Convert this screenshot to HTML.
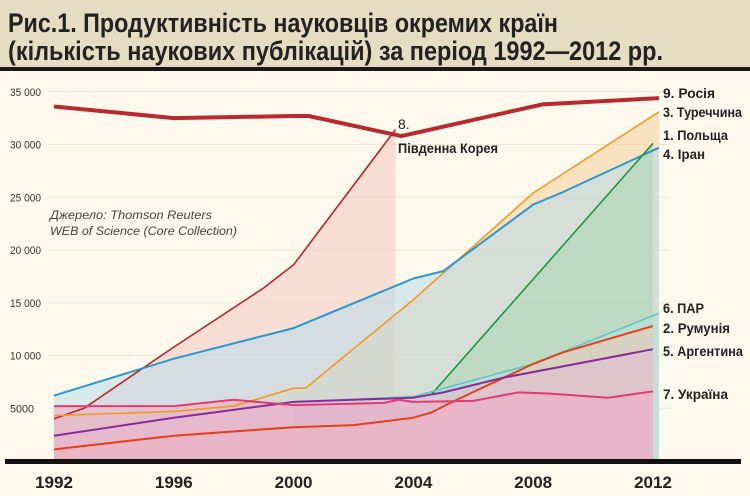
<!DOCTYPE html>
<html><head><meta charset="utf-8">
<style>
body{margin:0;width:750px;height:496px;overflow:hidden;background:#fdf9ec;font-family:"Liberation Sans",sans-serif;}
svg{display:block}
</style></head>
<body>
<svg id="c" width="750" height="496" viewBox="0 0 750 496" xmlns="http://www.w3.org/2000/svg">
<rect x="0" y="0" width="750" height="68" fill="#e6dcc2"/>
<rect x="0" y="67" width="750" height="4" fill="#1a1a1a"/>
<text x="8" y="32" font-size="27" font-weight="bold" fill="#222" textLength="550" lengthAdjust="spacingAndGlyphs">Рис.1. Продуктивність науковців окремих країн</text>
<text x="8" y="60" font-size="27" font-weight="bold" fill="#222" textLength="655" lengthAdjust="spacingAndGlyphs">(кількість наукових публікацій) за період 1992—2012 рр.</text>
<g id="grid"></g>
<g id="fills"></g>
<g id="lines"></g>
<rect x="5" y="459" width="736" height="5" fill="#111"/>
<g id="xt"></g>
<text x="50" y="219" font-size="12" font-style="italic" fill="#444" textLength="162" lengthAdjust="spacingAndGlyphs">Джерело: Thomson Reuters</text>
<text x="50" y="235" font-size="12" font-style="italic" fill="#444" textLength="187" lengthAdjust="spacingAndGlyphs">WEB of Science (Core Collection)</text>
<text x="398" y="129" font-size="14" fill="#222">8.</text>
<text x="398" y="153" font-size="13.5" font-weight="bold" fill="#222" textLength="100" lengthAdjust="spacingAndGlyphs">Південна Корея</text>
<g id="labels" font-size="13.5" font-weight="bold" fill="#222"></g>
</svg>
<script>
const years=[1992,1996,2000,2004,2008,2012];
const yTicks=[5000,10000,15000,20000,25000,30000,35000];
const yTickLabels=["5000","10 000","15 000","20 000","25 000","30 000","35 000"];
const russiaX=[1992,1996,2000,2000.5,2003.6,2008.3,2012.2];
const russiaY=[33.6,32.5,32.7,32.7,30.8,33.8,34.4];
const koreaX=[1992,1993,1996,1999,2000,2003.4];
const koreaY=[4.0,5.0,10.8,16.4,18.6,31.4];
const polandX=[1992,1996,2000,2004,2005,2008,2009,2012.2];
const polandY=[6.2,9.7,12.6,17.3,18.0,24.3,25.5,29.7];
const iranX=[2004.6,2012];
const iranY=[6.3,30.1];
const turkeyX=[1992,1996,1998,2000,2000.4,2004,2008,2012.2];
const turkeyY=[4.3,4.7,5.2,6.9,6.9,15.3,25.4,33.1];
const argentinaX=[1992,1996,2000,2004,2005,2007,2012];
const argentinaY=[2.4,4.1,5.6,6.0,6.5,7.9,10.6];
const safricaX=[2000,2004,2008,2012.2];
const safricaY=[5.6,6.1,9.2,14.0];
const romaniaX=[1992,1996,2000,2002,2004,2004.6,2005.3,2008,2009,2012];
const romaniaY=[1.1,2.4,3.2,3.4,4.1,4.6,5.6,9.2,10.3,12.8];
const ukraineX=[1992,1996,1998,2000,2003,2003.5,2004,2006,2007.5,2008.5,2010.5,2012];
const ukraineY=[5.2,5.2,5.8,5.3,5.5,5.8,5.6,5.7,6.5,6.4,6.0,6.6];

const sx=y=>54+(y-1992)*29.95;
const sy=v=>461-v*10.55;
const NS="http://www.w3.org/2000/svg";
function mk(t,a,p){const e=document.createElementNS(NS,t);for(const k in a)e.setAttribute(k,a[k]);p.appendChild(e);return e;}
const grid=document.getElementById('grid');
yTicks.forEach((v,i)=>{
 const l=mk('line',{x1:48,x2:670,y1:sy(v/1000),y2:sy(v/1000),stroke:'#ece6d2','stroke-width':1},grid);
 
 
 const t=mk('text',{x:10,y:sy(v/1000)+4,'font-size':11,fill:'#333',textLength:(i===0?24:31),lengthAdjust:'spacingAndGlyphs'},grid);
 t.textContent=yTickLabels[i];
 
 
});
const xt=document.getElementById('xt');
years.forEach(y=>{
 const t=mk('text',{x:sx(y),y:488,'font-size':17,'font-weight':'bold','text-anchor':'middle',fill:'#222'},xt);
 t.textContent=y;
 
 
});
const series=[
 {n:'korea',X:koreaX,Y:koreaY,c:'#b8232b',f:'#f6c9c3',w:1.6},
 {n:'turkey',X:turkeyX,Y:turkeyY,c:'#f19a23',f:'#f4cf9c',w:1.6},
 {n:'poland',X:polandX,Y:polandY,c:'#2a98cf',f:'#b9dcea',w:2},
 {n:'iran',X:iranX,Y:iranY,c:'#16983f',f:'#a9d3b0',w:1.6},
 {n:'south-africa',X:safricaX,Y:safricaY,c:'#5ec6c6',f:'#b4e0d8',w:1.6},
 {n:'romania',X:romaniaX,Y:romaniaY,c:'#e5401b',f:'#f2c5b4',w:2},
 {n:'argentina',X:argentinaX,Y:argentinaY,c:'#8a2b9a',f:'#e4bcd6',w:2},
 {n:'ukraine',X:ukraineX,Y:ukraineY,c:'#e33a74',f:'#f0a9c4',w:2},
 {n:'russia',X:russiaX,Y:russiaY,c:'#b82a30',f:null,w:4}
];
const fills=document.getElementById('fills'),lines=document.getElementById('lines');
series.forEach(s=>{
 const pts=s.X.map((x,i)=>sx(x).toFixed(1)+','+sy(s.Y[i]).toFixed(1));
 if(s.f){
  const d='M'+sx(s.X[0])+','+sy(0)+' L'+pts.join(' L')+' L'+sx(s.X[s.X.length-1])+','+sy(0)+'Z';
  const p=mk('path',{d:d,fill:s.f,'fill-opacity':0.55},fills);
  
  
 }
 const l=mk('polyline',{points:pts.join(' '),fill:'none',stroke:s.c,'stroke-width':s.w,'stroke-linejoin':'round'},lines);
 
 
});
const labs=[["9. Росія",98,52],["3. Туреччина",117,79],["1. Польща",140,65],["4. Іран",159,42],["6. ПАР",313,41],["2. Румунія",333,67],["5. Аргентина",356,80],["7. Україна",399,65]];
const lg=document.getElementById('labels');
labs.forEach(a=>{
 const t=mk('text',{x:663,y:a[1],textLength:a[2],lengthAdjust:'spacingAndGlyphs'},lg);
 t.textContent=a[0];
 
 
});
</script>
</body></html>
